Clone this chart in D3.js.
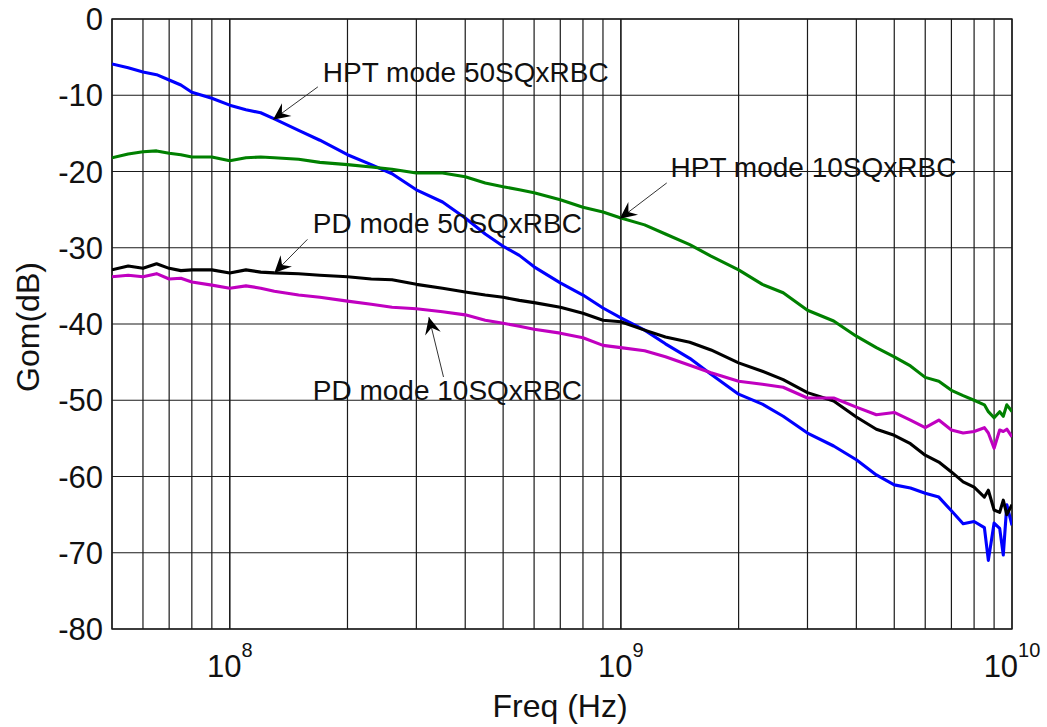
<!DOCTYPE html>
<html><head><meta charset="utf-8">
<script src="https://cdn.jsdelivr.net/npm/d3@7"></script>
<style>body{margin:0;background:#fff}</style>
</head><body>
<svg id="c" width="1047" height="727"></svg>
<script>
// ---- data ----
const freqHz = [5e7,5.5e7,6e7,6.5e7,7e7,7.5e7,8e7,9e7,
  1e8,1.1e8,1.2e8,1.3e8,1.5e8,1.7e8,
  2e8,2.3e8,2.6e8,3e8,3.5e8,4e8,4.5e8,5e8,5.5e8,6e8,7e8,8e8,9e8,
  1e9,1.15e9,1.3e9,1.5e9,1.7e9,
  2e9,2.3e9,2.6e9,3e9,3.5e9,4e9,4.5e9,5e9,5.5e9,6e9,6.5e9,7e9,7.5e9,8e9,8.5e9,8.7e9,9e9,9.3e9,9.5e9,9.7e9,
  1e10];
const hpt50 = [-5.9,-6.4,-6.95,-7.3,-8.0,-8.65,-9.6,-10.4,
  -11.3,-11.9,-12.3,-13.1,-14.6,-15.9,
  -17.8,-19.1,-20.3,-22.4,-24.0,-26.1,-28.2,-29.8,-31.0,-32.5,-34.6,-36.2,-37.9,
  -39.2,-40.8,-42.6,-44.5,-46.6,
  -49.2,-50.5,-52.1,-54.3,-56.0,-57.8,-59.8,-61.1,-61.5,-62.2,-62.7,-64.5,-66.2,-65.9,-66.7,-71.0,-66.1,-66.8,-70.3,-63.7,
  -66.4];
const hpt10 = [-18.2,-17.7,-17.4,-17.3,-17.6,-17.8,-18.1,-18.1,
  -18.6,-18.2,-18.1,-18.2,-18.4,-18.8,
  -19.1,-19.4,-19.7,-20.2,-20.2,-20.7,-21.5,-22.0,-22.4,-22.8,-23.7,-24.7,-25.3,
  -26.1,-27.0,-28.2,-29.6,-31.1,
  -32.9,-34.8,-35.9,-38.2,-39.6,-41.6,-43.1,-44.3,-45.5,-47.0,-47.5,-48.7,-49.4,-50.0,-50.6,-51.5,-52.3,-51.5,-52.1,-50.6,
  -51.5];
const pd50 = [-32.9,-32.4,-32.7,-32.1,-32.7,-33.0,-32.9,-32.9,
  -33.3,-32.9,-33.2,-33.3,-33.4,-33.6,
  -33.8,-34.1,-34.2,-34.8,-35.3,-35.8,-36.2,-36.5,-36.9,-37.2,-37.8,-38.6,-39.5,
  -39.7,-40.8,-41.7,-42.4,-43.4,
  -45.1,-46.2,-47.3,-49.0,-50.1,-52.2,-53.8,-54.6,-55.7,-57.2,-58.1,-59.4,-60.7,-61.4,-62.7,-61.8,-64.4,-64.7,-63.1,-65.0,
  -63.7];
const pd10 = [-33.8,-33.6,-33.8,-33.4,-34.1,-34.0,-34.5,-34.9,
  -35.3,-35.0,-35.3,-35.7,-36.2,-36.5,
  -37.0,-37.4,-37.8,-38.0,-38.4,-38.8,-39.5,-39.9,-40.3,-40.7,-41.2,-41.8,-42.8,
  -43.1,-43.5,-44.3,-45.4,-46.4,
  -47.5,-47.9,-48.3,-49.7,-49.7,-50.9,-51.9,-51.6,-52.6,-53.6,-52.6,-53.9,-54.3,-54.1,-53.6,-54.3,-56.3,-53.9,-54.1,-53.8,
  -54.8];
const seriesNames = ["HPT mode 50SQxRBC","HPT mode 10SQxRBC","PD mode 50SQxRBC","PD mode 10SQxRBC"];
const seriesColors = ["#0000ff","#008000","#000000","#c000c0"];
const yTicks = [0,-10,-20,-30,-40,-50,-60,-70,-80];
const xMajorTicks = [1e8,1e9,1e10];
const xMajorExp = ["8","9","10"];
// annotations: label anchor, arrow tail, arrow tip (data coords)
const annoText = ["HPT mode 50SQxRBC","HPT mode 10SQxRBC","PD mode 50SQxRBC","PD mode 10SQxRBC"];
const annoLabel = [[1.73e8,-8.26],[1.34e9,-20.7],[1.63e8,-28.1],[1.63e8,-50.0]];
const annoTail = [[1.68e8,-8.9],[1.31e9,-21.5],[1.58e8,-28.9],[3.52e8,-46.95]];
const annoTip = [[1.29e8,-13.2],[9.93e8,-26.2],[1.30e8,-33.3],[3.23e8,-39.1]];

// ---- drawing ----
const svg = d3.select("#c");
const L=112, R=1012, T=19, B=629;
const x = d3.scaleLog().domain([5e7,1e10]).range([L,R]);
const y = d3.scaleLinear().domain([-80,0]).range([B,T]);
const font = "Arial, 'Liberation Sans', Helvetica, sans-serif";

// grid
const minor = [];
[1e7,1e8,1e9].forEach(d=>{for(let k=1;k<=10;k++){const v=d*k; if(v>=5e7 && v<=1e10) minor.push(v);}});
const g = svg.append("g");
g.selectAll("line.vg").data(minor).enter().append("line")
  .attr("x1",d=>x(d)).attr("x2",d=>x(d)).attr("y1",T).attr("y2",B)
  .attr("stroke","#1a1a1a").attr("stroke-width",1.2);
g.selectAll("line.hg").data(yTicks).enter().append("line")
  .attr("x1",L).attr("x2",R).attr("y1",d=>y(d)).attr("y2",d=>y(d))
  .attr("stroke","#1a1a1a").attr("stroke-width",1.2);
svg.append("rect").attr("x",L).attr("y",T).attr("width",R-L).attr("height",B-T)
  .attr("fill","none").attr("stroke","#1a1a1a").attr("stroke-width",1.4);

// y tick labels
svg.selectAll("text.yt").data(yTicks).enter().append("text")
  .attr("x",L-9).attr("y",d=>y(d)+11).attr("text-anchor","end")
  .attr("font-family",font).attr("font-size",31).attr("fill","#111")
  .text(d=>d);
// x tick labels
xMajorTicks.forEach((v,i)=>{
  const t = svg.append("text").attr("x",x(v)).attr("y",677).attr("text-anchor","middle")
    .attr("font-family",font).attr("font-size",31).attr("fill","#111");
  t.append("tspan").text("10");
  t.append("tspan").attr("font-size",20).attr("dy",-20).text(xMajorExp[i]);
});
// axis titles
svg.append("text").attr("x",(L+R)/2-2).attr("y",717).attr("text-anchor","middle")
  .attr("font-family",font).attr("font-size",32).attr("fill","#111").text("Freq (Hz)");
svg.append("text").attr("transform","translate(39,327) rotate(-90)").attr("text-anchor","middle")
  .attr("font-family",font).attr("font-size",32).attr("fill","#111").text("Gom(dB)");

// series
const all = [hpt50,hpt10,pd50,pd10];
const line = d3.line().x((d,i)=>x(freqHz[i])).y(d=>y(d));
const clip = svg.append("clipPath").attr("id","pc").append("rect")
  .attr("x",L).attr("y",T).attr("width",R-L).attr("height",B-T);
all.forEach((s,k)=>{
  svg.append("path").datum(s).attr("d",line).attr("fill","none")
    .attr("stroke",seriesColors[k]).attr("stroke-width",3.1).attr("stroke-linejoin","round")
    .attr("clip-path","url(#pc)");
});

// annotations
annoText.forEach((t,i)=>{
  const x0=x(annoTail[i][0]), y0=y(annoTail[i][1]);
  const x1=x(annoTip[i][0]), y1=y(annoTip[i][1]);
  svg.append("line").attr("x1",x0).attr("y1",y0).attr("x2",x1).attr("y2",y1)
    .attr("stroke","#333").attr("stroke-width",1);
  const ang = Math.atan2(y1-y0,x1-x0)*180/Math.PI;
  svg.append("path").attr("d","M0,0 L-17,-8 L-11,0 L-17,8 Z")
    .attr("transform",`translate(${x1},${y1}) rotate(${ang})`).attr("fill","#000");
  svg.append("text").attr("x",x(annoLabel[i][0])).attr("y",y(annoLabel[i][1]))
    .attr("font-family",font).attr("font-size",28).attr("fill","#111").text(t);
});
</script>
</body></html>
